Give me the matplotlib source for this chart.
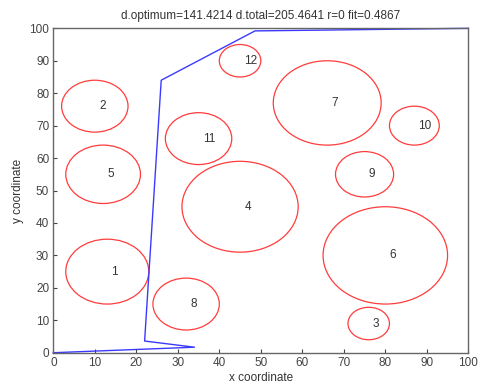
import matplotlib
matplotlib.use("Agg")
import matplotlib.pyplot as plt
from matplotlib.patches import Circle

plt.rcParams['font.family'] = ['Liberation Sans', 'DejaVu Sans']

# Obstacles: centre x, centre y, radius
obs_x = [13, 10, 76, 45, 12, 80, 66, 32, 75, 87, 35, 45]
obs_y = [25, 76, 9, 45, 55, 30, 77, 15, 55, 70, 66, 90]
obs_r = [10, 8, 5, 14, 9, 15, 13, 8, 7, 6, 8, 5]
obs_labels = [str(i) for i in range(1, 13)]

# Path waypoints
path_x = [0, 34, 22, 26, 48.6, 100]
path_y = [0, 1.7, 3.6, 84, 99.2, 100]

ticks = list(range(0, 101, 10))
title = "d.optimum=141.4214 d.total=205.4641 r=0 fit=0.4867"

fig = plt.figure(figsize=(4.79, 3.90), dpi=100)
ax = fig.add_axes([0.1113, 0.0956, 0.8664, 0.8318])

for x, y, r, lab in zip(obs_x, obs_y, obs_r, obs_labels):
    ax.add_patch(Circle((x, y), r, fill=False, edgecolor='#ff3c3c', lw=0.9))
    ax.text(x + 1, y, lab, ha='left', va='center', fontsize=8.5, color='#333333')

ax.plot(path_x, path_y, color='#3a3aff', lw=1.0, clip_on=False, zorder=1)

ax.set_xlim(0, 100)
ax.set_ylim(0, 100)
ax.set_xticks(ticks)
ax.set_yticks(ticks)
ax.tick_params(direction='in', length=3, width=0.8, labelsize=8.5,
               colors='#444444', pad=3)
for s in ax.spines.values():
    s.set_color('#666666')
    s.set_linewidth(1.0)
    s.set_zorder(3)

ax.set_xlabel('x coordinate', fontsize=8.5, color='#333333', labelpad=2)
ax.set_ylabel('y coordinate', fontsize=8.5, color='#333333', labelpad=4)
ax.set_title(title, fontsize=8.5, color='#333333', pad=7)

fig.savefig('out.png', dpi=100)
